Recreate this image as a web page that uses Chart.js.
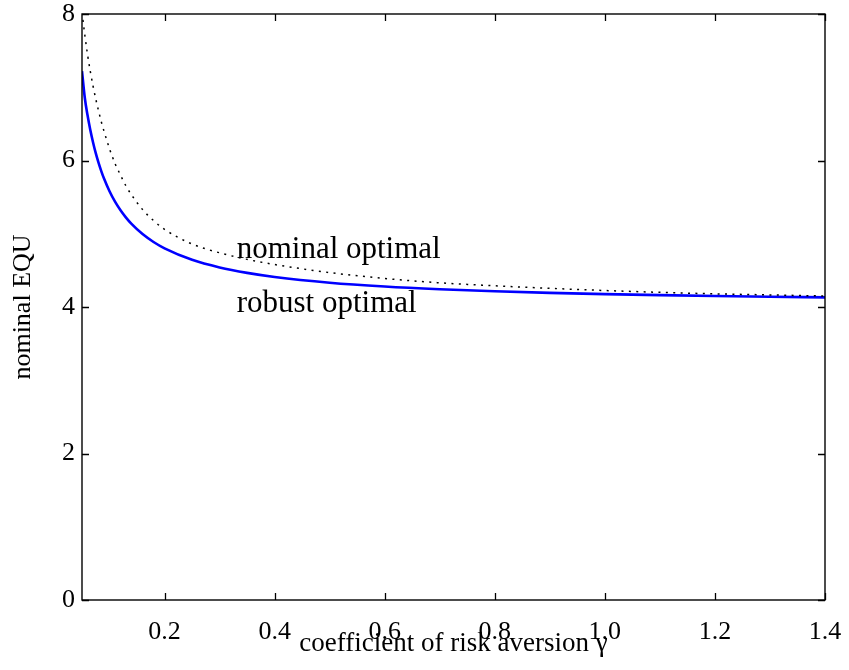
<!DOCTYPE html>
<html>
<head>
<meta charset="utf-8">
<script src="https://cdn.jsdelivr.net/npm/chart.js@4.4.1/dist/chart.umd.min.js"></script>
<style>
  html, body { margin: 0; padding: 0; background: #fff; }
  #wrap { width: 849px; height: 670px; position: relative; }
</style>
</head>
<body>
<div id="wrap"><canvas id="c" width="849" height="670"></canvas></div>
<script>
// ---- data ----
const robustX = [0.05, 0.055, 0.06, 0.065, 0.07, 0.075, 0.08, 0.085, 0.09, 0.10, 0.11, 0.12, 0.13, 0.14, 0.16, 0.18, 0.20, 0.25, 0.30, 0.35, 0.40, 0.50, 0.60, 0.70, 0.80, 0.90, 1.00, 1.10, 1.20, 1.30, 1.40];
const robustY = [7.22, 6.86, 6.62, 6.42, 6.25, 6.10, 5.97, 5.855, 5.753, 5.58, 5.438, 5.32, 5.22, 5.134, 4.995, 4.887, 4.80, 4.644, 4.54, 4.466, 4.41, 4.332, 4.28, 4.243, 4.215, 4.193, 4.176, 4.162, 4.15, 4.14, 4.131];

const nominalX = [0.05, 0.055, 0.06, 0.065, 0.07, 0.075, 0.08, 0.085, 0.09, 0.10, 0.11, 0.12, 0.13, 0.14, 0.16, 0.18, 0.20, 0.25, 0.30, 0.35, 0.40, 0.50, 0.60, 0.70, 0.80, 0.90, 1.00, 1.10, 1.20, 1.30, 1.40];
const nominalY = [8.02, 7.72, 7.45, 7.22, 7.02, 6.84, 6.68, 6.53, 6.40, 6.16, 5.96, 5.80, 5.65, 5.53, 5.33, 5.18, 5.06, 4.86, 4.74, 4.65, 4.58, 4.47, 4.39, 4.33, 4.29, 4.255, 4.225, 4.20, 4.18, 4.165, 4.15];

const xTickValues = [0.2, 0.4, 0.6, 0.8, 1.0, 1.2, 1.4];
const yTickValues = [0, 2, 4, 6, 8];

const xTitle = 'coefficient of risk aversion \u03B3';
const yTitle = 'nominal EQU';

const labelTexts = ['nominal optimal', 'robust optimal'];
const labelX = [0.331, 0.331];
const labelY = [4.67, 3.93];

// ---- chart ----
const FONT = '"Liberation Serif", "Times New Roman", serif';
Chart.defaults.font.family = FONT;
Chart.defaults.color = '#000';

const toPts = (xs, ys) => xs.map((x, i) => ({ x: x, y: ys[i] }));

const frameAndTicks = {
  id: 'frameAndTicks',
  afterDraw(chart) {
    const ctx = chart.ctx;
    const a = chart.chartArea;
    const xs = chart.scales.x, ys = chart.scales.y;
    const L = 7;
    ctx.save();
    ctx.strokeStyle = '#000';
    ctx.lineWidth = 1.3;
    ctx.beginPath();
    xTickValues.forEach(v => {
      const p = Math.round(xs.getPixelForValue(v)) + 0.5;
      ctx.moveTo(p, a.bottom); ctx.lineTo(p, a.bottom - L);
      ctx.moveTo(p, a.top); ctx.lineTo(p, a.top + L);
    });
    yTickValues.forEach(v => {
      const p = Math.round(ys.getPixelForValue(v)) + 0.5;
      ctx.moveTo(a.left, p); ctx.lineTo(a.left + L, p);
      ctx.moveTo(a.right, p); ctx.lineTo(a.right - L, p);
    });
    ctx.stroke();
    ctx.lineWidth = 1.4;
    ctx.strokeRect(a.left, a.top, a.right - a.left, a.bottom - a.top);

    ctx.fillStyle = '#000';
    ctx.font = '31px ' + FONT;
    ctx.textAlign = 'left';
    ctx.textBaseline = 'alphabetic';
    labelTexts.forEach((t, i) => {
      ctx.fillText(t, xs.getPixelForValue(labelX[i]), ys.getPixelForValue(labelY[i]));
    });
    ctx.restore();
  }
};

new Chart(document.getElementById('c'), {
  type: 'line',
  data: {
    datasets: [
      {
        label: 'nominal optimal',
        data: toPts(nominalX, nominalY),
        borderColor: '#000',
        borderWidth: 1.5,
        borderDash: [2, 5.4],
        pointRadius: 0,
        cubicInterpolationMode: 'monotone',
        fill: false
      },
      {
        label: 'robust optimal',
        data: toPts(robustX, robustY),
        borderColor: '#0000ff',
        borderWidth: 2.6,
        pointRadius: 0,
        cubicInterpolationMode: 'monotone',
        fill: false
      }
    ]
  },
  options: {
    responsive: false,
    animation: false,
    events: [],
    layout: { padding: { left: 0, right: 24, top: 14, bottom: 0 } },
    plugins: { legend: { display: false }, tooltip: { enabled: false } },
    scales: {
      x: {
        type: 'linear',
        min: 0.05,
        max: 1.4,
        grid: { display: false, drawTicks: false },
        border: { display: false },
        afterBuildTicks: s => { s.ticks = xTickValues.map(v => ({ value: v })); },
        afterFit: s => { s.height = 70; s.paddingLeft = 0; s.paddingRight = 0; },
        ticks: {
          padding: 17,
          font: { size: 26 },
          autoSkip: false,
          maxRotation: 0,
          callback: v => Number(v).toFixed(1)
        },
        title: { display: true, text: xTitle, font: { size: 27 }, padding: { top: 0, bottom: 10 } }
      },
      y: {
        type: 'linear',
        min: 0,
        max: 8,
        grid: { display: false, drawTicks: false },
        border: { display: false },
        afterBuildTicks: s => { s.ticks = yTickValues.map(v => ({ value: v })); },
        afterFit: s => { s.width = 82; s.paddingTop = 0; s.paddingBottom = 0; },
        ticks: {
          padding: 7,
          font: { size: 26 },
          callback: v => String(v)
        },
        title: { display: true, text: yTitle, font: { size: 26 }, padding: { top: 8, bottom: 0 } }
      }
    }
  },
  plugins: [frameAndTicks]
});
</script>
</body>
</html>
